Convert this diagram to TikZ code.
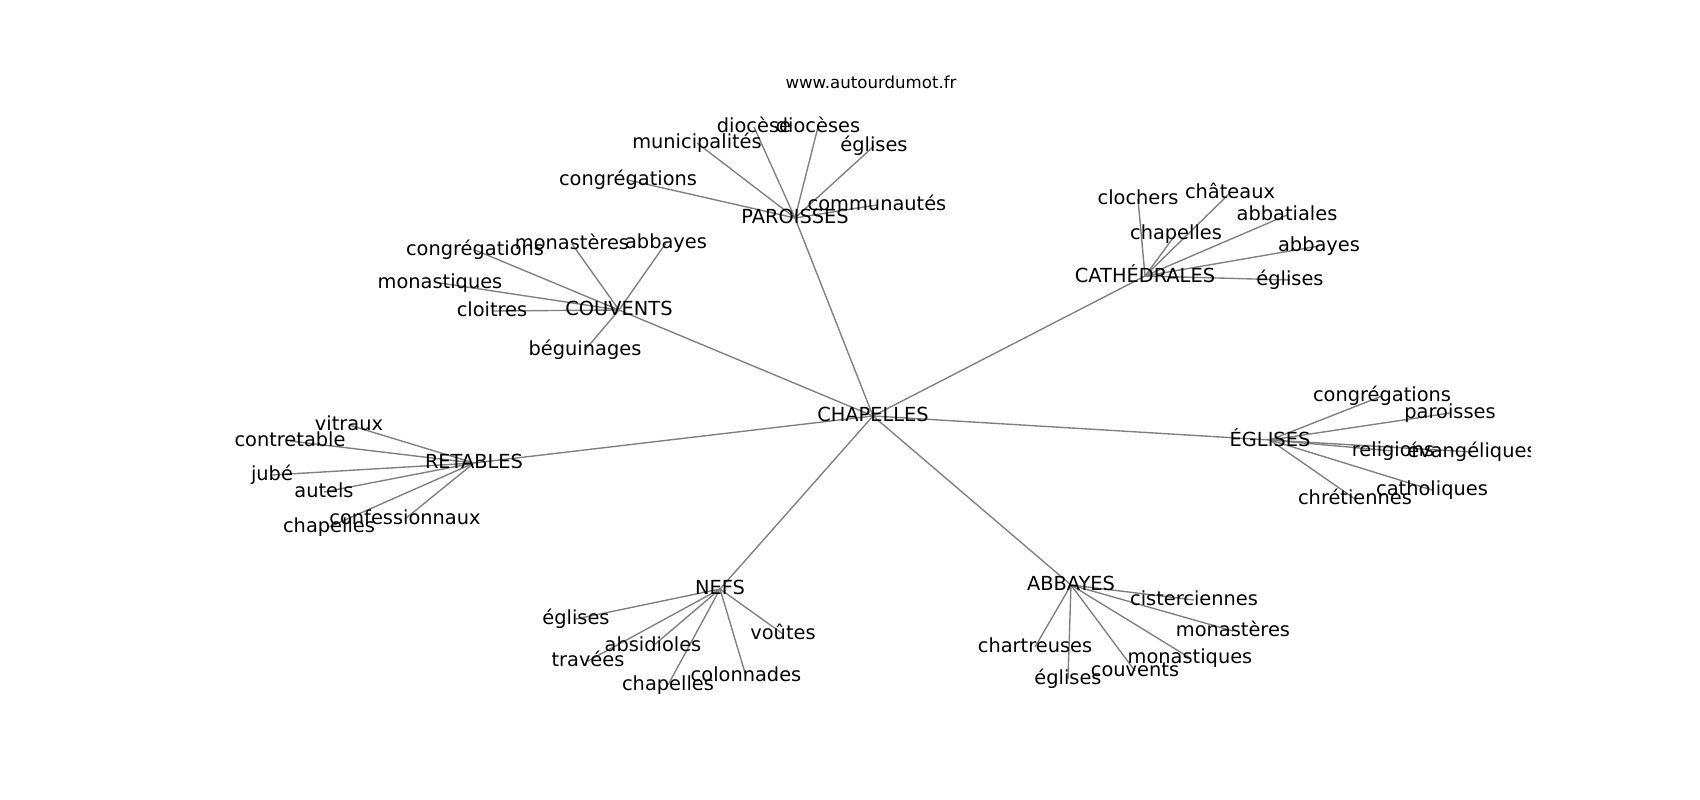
\documentclass[tikz,border=0pt]{standalone}
\usepackage{fontspec}
\setmainfont{DejaVu Sans}
\usetikzlibrary{backgrounds}

\tikzset{
    word/.style={inner sep=0pt, font=\fontsize{14}{17}\selectfont, execute at begin node=\vphantom{lp}},
    link/.style={draw=gray, line width=1pt}
}

\begin{document}
\begin{tikzpicture}[x=0.01in, y=-0.01in]
    \useasboundingbox (0,0) rectangle (1700,800);

    % Title above the plot area
    \node[anchor=base, inner sep=0pt, font=\fontsize{12}{14}\selectfont] (title) at (871,89) {www.autourdumot.fr};

    \begin{scope}
    \clip (212.5,96) rectangle (1530,712); % plot area
    % Central word and its seven neighbours
    \node[word] (chap) at (873,416) {CHAPELLES};
    \foreach \n/\x/\y/\t in {par/795/218/PAROISSES, cou/619/310/COUVENTS, cat/1145/276/CATHÉDRALES,
        egl/1270/440/ÉGLISES, ret/474/463/RETABLES, nef/720/589/NEFS, abb/1071/585/ABBAYES}
        \node[word] (\n) at (\x,\y) {\t};

    % Second ring
    \foreach \n/\x/\y/\t in {par1/628/180/congrégations, par2/697/143/municipalités, par3/754/127/diocèse,
        par4/818/127/diocèses, par5/874/146/églises, par6/877/205/communautés,
        cou1/475/250/congrégations, cou2/572/244/monastères, cou3/666/243/abbayes,
        cou4/440/283/monastiques, cou5/492/311/cloitres, cou6/585/350/béguinages,
        cat1/1138/199/clochers, cat2/1230/193/châteaux, cat3/1287/215/abbatiales,
        cat4/1176/234/chapelles, cat5/1319/246/abbayes, cat6/1290/280/églises,
        egl1/1382/396/congrégations, egl2/1450/413/paroisses, egl3/1393/451/religions,
        egl4/1472/452/évangéliques, egl5/1432/490/catholiques, egl6/1355/499/chrétiennes,
        ret1/349/425/vitraux, ret2/290/441/contretable, ret3/272/475/jubé,
        ret4/324/492/autels, ret5/405/519/confessionnaux, ret6/329/527/chapelles,
        nef1/576/619/églises, nef2/783/634/voûtes, nef3/653/646/absidioles,
        nef4/588/661/travées, nef5/746/676/colonnades, nef6/668/685/chapelles,
        abb1/1194/600/cisterciennes, abb2/1233/631/monastères, abb3/1035/647/chartreuses,
        abb4/1190/658/monastiques, abb5/1135/671/couvents, abb6/1068/679/églises}
        \node[word] (\n) at (\x,\y) {\t};
    \end{scope}

    % Connectors behind the words
    \begin{scope}[on background layer]
    \foreach \h in {par,cou,cat,egl,ret,nef,abb} {
        \draw[link] (chap.center) -- (\h.center);
        \foreach \i in {1,...,6}
            \draw[link] (\h.center) -- (\h\i.center);
    }
    \end{scope}
\end{tikzpicture}
\end{document}
